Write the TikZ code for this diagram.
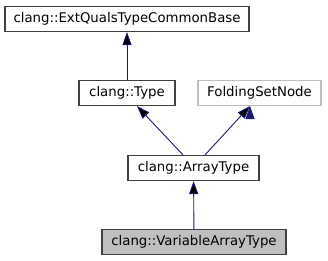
\documentclass[tikz,border=0pt]{standalone}
\usepackage{fontspec}
\setmainfont{DejaVu Sans}
\usetikzlibrary{arrows.meta}

\definecolor{edgeblue}{HTML}{191970}
\definecolor{lightgrey}{HTML}{BFBFBF}

\begin{document}
\begin{tikzpicture}[x=1pt,y=-1pt,<-,>={Triangle[length=13pt,width=9pt]},
  line width=0.9pt,
  class node/.style={rectangle,draw=black!75,fill=white,inner sep=0pt,
    line width=1.1pt,minimum height=25pt,font=\fontsize{13.3}{16}\selectfont},
  extern node/.style={class node,draw=lightgrey},
  current node/.style={class node,fill=lightgrey}]

  \useasboundingbox (0,0) rectangle (328,261);

  \node[class node,minimum width=244pt] (base) at (127,19) {clang::ExtQualsTypeCommonBase};
  \node[class node,minimum width=96pt] (type) at (127,93) {clang::Type};
  \node[extern node,minimum width=123pt] (fsn) at (259.5,93) {FoldingSetNode};
  \node[class node,minimum width=131pt] (array) at (193.5,168) {clang::ArrayType};
  \node[current node,minimum width=184pt] (vat) at (194,242) {clang::VariableArrayType};

  \path[draw=edgeblue]
    (base) edge (type)
    ([xshift=10pt]type.south) edge ([xshift=-10.5pt]array.north)
    ([xshift=-9.5pt]fsn.south) edge ([xshift=11.5pt]array.north)
    (array) edge (vat);
\end{tikzpicture}
\end{document}
